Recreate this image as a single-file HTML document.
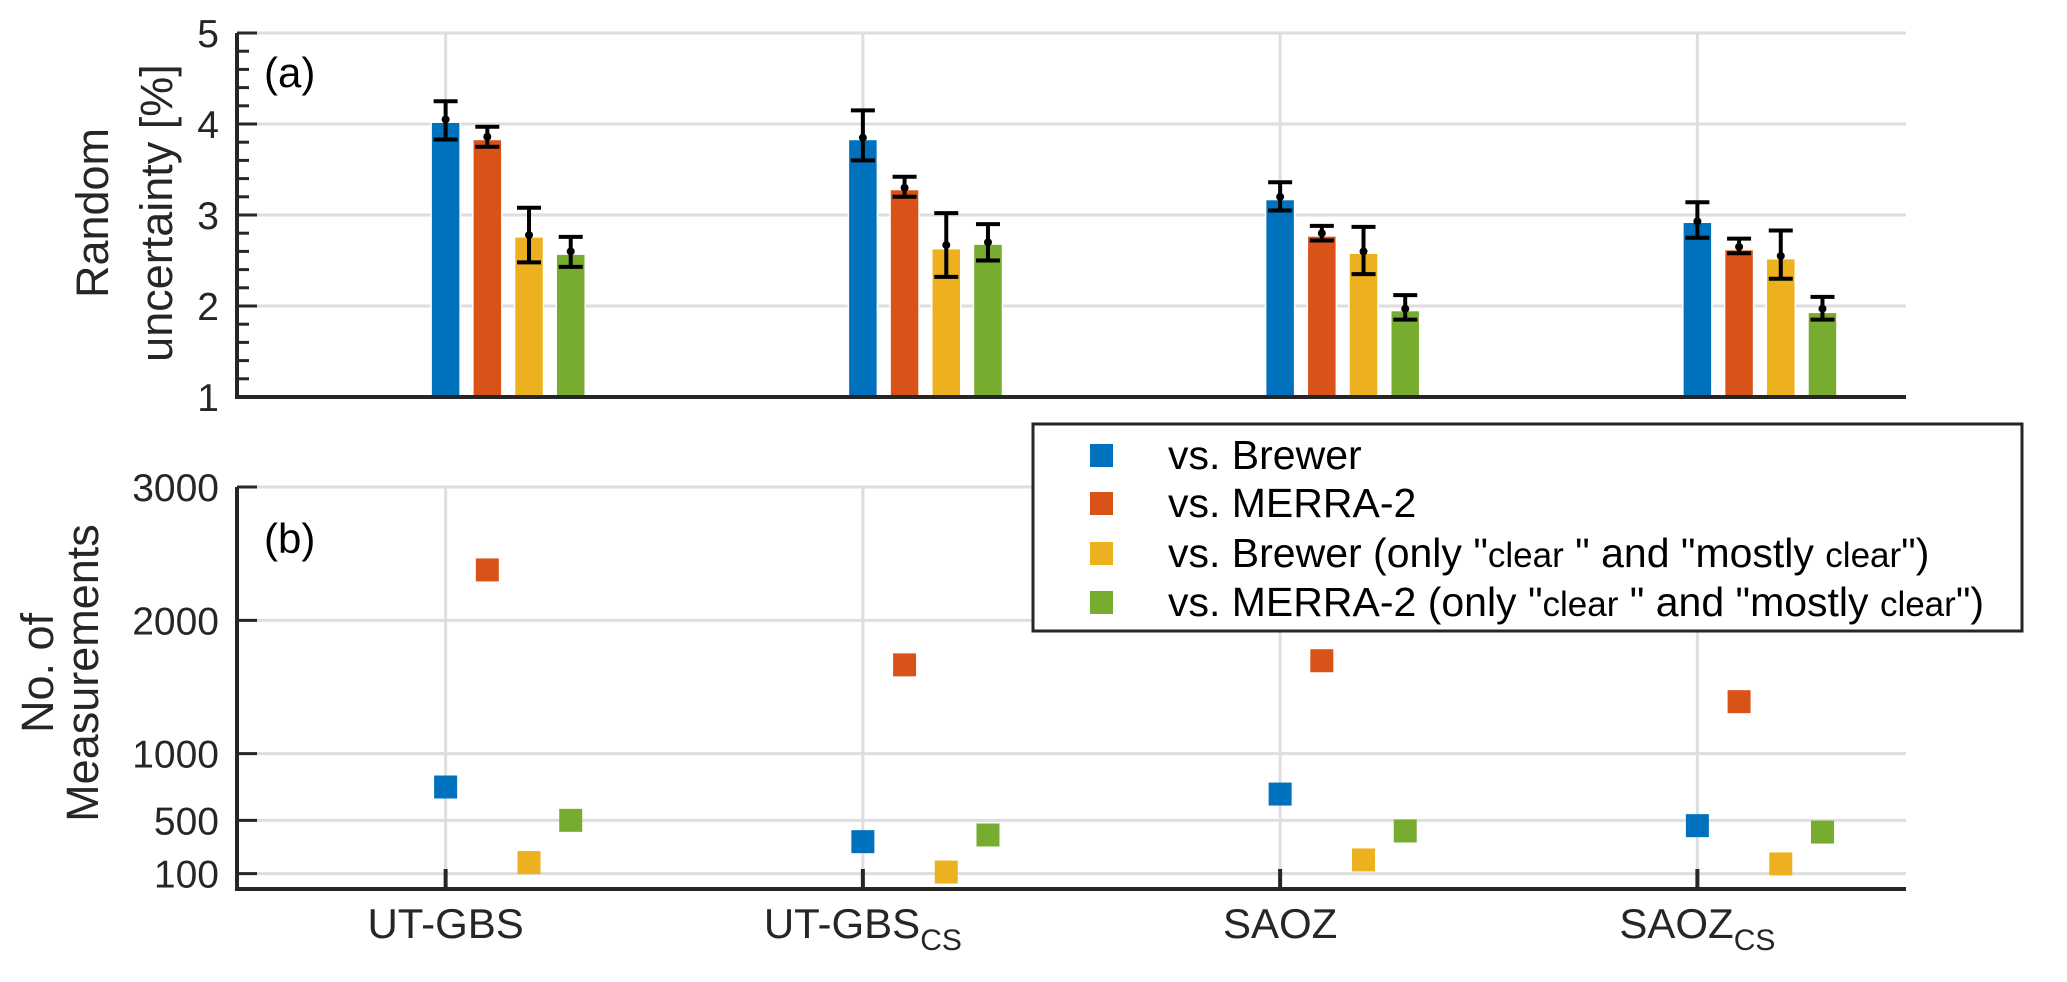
<!DOCTYPE html>
<html><head><meta charset="utf-8"><style>
body{margin:0;background:#fff}
svg{display:block;font-family:"Liberation Sans",Arial,sans-serif}
</style></head><body>
<svg id="chart" width="2067" height="982" viewBox="0 0 2067 982" xmlns="http://www.w3.org/2000/svg">
<rect width="2067" height="982" fill="#fff"/>
<g id="top"></g>
<g id="bot"></g>
<g id="leg"></g>
</svg>
<script>
const categories = ["UT-GBS", "UT-GBS", "SAOZ", "SAOZ"];
const catSubs = ["", "CS", "", "CS"];
const seriesNames = ["vs. Brewer", "vs. MERRA-2", "vs. Brewer (only", "vs. MERRA-2 (only"];
const colors = ["#0072BD", "#D95319", "#EDB120", "#77AC30"];
const barBrewer = [4.02, 3.83, 3.17, 2.92];
const barMerra = [3.83, 3.28, 2.77, 2.62];
const barBrewerClear = [2.76, 2.63, 2.58, 2.52];
const barMerraClear = [2.57, 2.68, 1.95, 1.93];
const errLow = [[3.83, 3.60, 3.05, 2.75], [3.75, 3.20, 2.72, 2.58], [2.48, 2.32, 2.35, 2.30], [2.43, 2.50, 1.85, 1.85]];
const errHigh = [[4.25, 4.15, 3.36, 3.14], [3.97, 3.42, 2.88, 2.74], [3.08, 3.02, 2.87, 2.83], [2.76, 2.90, 2.12, 2.10]];
const errMid = [[4.05, 3.85, 3.20, 2.93], [3.86, 3.30, 2.80, 2.65], [2.78, 2.67, 2.60, 2.55], [2.60, 2.70, 1.97, 1.97]];
const countBrewer = [750, 340, 697, 460];
const countMerra = [2378, 1666, 1697, 1390];
const countBrewerClear = [183, 112, 203, 173];
const countMerraClear = [500, 390, 420, 412];
const topTicks = [1, 2, 3, 4, 5];
const botTicks = [100, 500, 1000, 2000, 3000];

const NS = "http://www.w3.org/2000/svg";
function mk(parent, tag, attrs, text){const e=document.createElementNS(NS,tag);for(const k in attrs)e.setAttribute(k,attrs[k]);if(text!==undefined)e.textContent=text;parent.appendChild(e);return e;}
const X0=237, X1=1906;
const xs = v => X0 + (v - 0.5) / 4 * (X1 - X0);
const yTop = v => 397 - (v - 1) / 4 * 364;
const yBot = v => 887 - v / 3000 * 400;
const offs = [0, 1, 2, 3];
const step = 41.7, bw = 29;
const bars = [barBrewer, barMerra, barBrewerClear, barMerraClear];
const counts = [countBrewer, countMerra, countBrewerClear, countMerraClear];

const T = document.getElementById("top");
topTicks.forEach(t => { const l = mk(T,"line",{x1:X0,x2:X1,y1:yTop(t),y2:yTop(t),stroke:"#dedede","stroke-width":3});
  });
categories.forEach((c,i)=>{ const l=mk(T,"line",{x1:xs(i+1),x2:xs(i+1),y1:33,y2:397,stroke:"#dedede","stroke-width":3});
  });
bars.forEach((ser,s)=>ser.forEach((v,i)=>{
  const cx = xs(i+1) + offs[s]*step;
  const r = mk(T,"rect",{x:cx-bw/2,y:yTop(v),width:bw,height:yTop(1)-yTop(v),fill:colors[s],stroke:"#fff","stroke-width":1.5});
  
  
  const g = mk(T,"g",{stroke:"#000","stroke-width":4});
  
  
  mk(g,"line",{x1:cx,x2:cx,y1:yTop(errLow[s][i]),y2:yTop(errHigh[s][i])});
  mk(g,"line",{x1:cx-12,x2:cx+12,y1:yTop(errLow[s][i]),y2:yTop(errLow[s][i])});
  mk(g,"line",{x1:cx-12,x2:cx+12,y1:yTop(errHigh[s][i]),y2:yTop(errHigh[s][i])});
  mk(T,"circle",{cx:cx,cy:yTop(errMid[s][i]),r:4,fill:"#000"});
}));
mk(T,"path",{d:`M${X0},33 V397 H${X1}`,fill:"none",stroke:"#262626","stroke-width":4});
for(let v=1; v<=5.001; v+=0.2){ const y=yTop(v); const major=Math.abs(v-Math.round(v))<0.01;
  mk(T,"line",{x1:X0,x2:X0+(major?20:12),y1:y,y2:y,stroke:"#262626","stroke-width":3}); }
topTicks.forEach(t=>{ const e=mk(T,"text",{x:219,y:yTop(t)+14,"text-anchor":"end","font-size":39,fill:"#262626"},String(t));
  });
const ya=mk(T,"text",{transform:"translate(108,213) rotate(-90)","text-anchor":"middle","font-size":45,fill:"#262626"},"Random");
 
mk(T,"text",{transform:"translate(172,213) rotate(-90)","text-anchor":"middle","font-size":45,fill:"#262626"},"uncertainty [%]");
const la=mk(T,"text",{x:264,y:87,"font-size":42,fill:"#000"},"(a)");
 

const B = document.getElementById("bot");
botTicks.forEach(t => { const l = mk(B,"line",{x1:X0,x2:X1,y1:yBot(t),y2:yBot(t),stroke:"#dedede","stroke-width":3});
  });
categories.forEach((c,i)=>{ const l=mk(B,"line",{x1:xs(i+1),x2:xs(i+1),y1:487,y2:887,stroke:"#dedede","stroke-width":3});
  });
counts.forEach((ser,s)=>ser.forEach((v,i)=>{
  const cx = xs(i+1) + offs[s]*step;
  const r = mk(B,"rect",{x:cx-11.5,y:yBot(v)-11.5,width:23,height:23,fill:colors[s]});
  
  
}));
mk(B,"path",{d:`M${X0},487 V889 H${X1}`,fill:"none",stroke:"#262626","stroke-width":4});
botTicks.forEach(t=>{ mk(B,"line",{x1:X0,x2:X0+20,y1:yBot(t),y2:yBot(t),stroke:"#262626","stroke-width":3});
const e=mk(B,"text",{x:219,y:yBot(t)+14,"text-anchor":"end","font-size":39,fill:"#262626"},String(t));
  });
categories.forEach((c,i)=>{ mk(B,"line",{x1:xs(i+1),x2:xs(i+1),y1:869,y2:889,stroke:"#262626","stroke-width":4});
const e=mk(B,"text",{x:xs(i+1),y:938,"text-anchor":"middle","font-size":42,fill:"#262626"});
 
mk(e,"tspan",{},c); if(catSubs[i]) mk(e,"tspan",{dy:12,"font-size":30},catSubs[i]); });
const yb=mk(B,"text",{transform:"translate(53,673) rotate(-90)","text-anchor":"middle","font-size":45,fill:"#262626"},"No. of");
 
mk(B,"text",{transform:"translate(98,673) rotate(-90)","text-anchor":"middle","font-size":45,fill:"#262626"},"Measurements");
const lb=mk(B,"text",{x:264,y:553,"font-size":42,fill:"#000"},"(b)");
 

const L = document.getElementById("leg");
mk(L,"rect",{x:1033,y:424,width:989,height:207,fill:"#fff",stroke:"#262626","stroke-width":3});
const rowsY=[455,503,553,602];
seriesNames.forEach((n,s)=>{
  const g=mk(L,"g",{});
  
  
  mk(g,"rect",{x:1090,y:rowsY[s]-11,width:23,height:23,fill:colors[s]});
  const t=mk(g,"text",{x:1168,y:rowsY[s]+14,"font-size":41,fill:"#000"});
  mk(t,"tspan",{},n);
  if(s>=2){ mk(t,"tspan",{}," \""); mk(t,"tspan",{"font-size":35},"clear"); mk(t,"tspan",{}," \" and \"mostly "); mk(t,"tspan",{"font-size":35},"clear"); mk(t,"tspan",{},"\")"); }
});
</script>
</body></html>
